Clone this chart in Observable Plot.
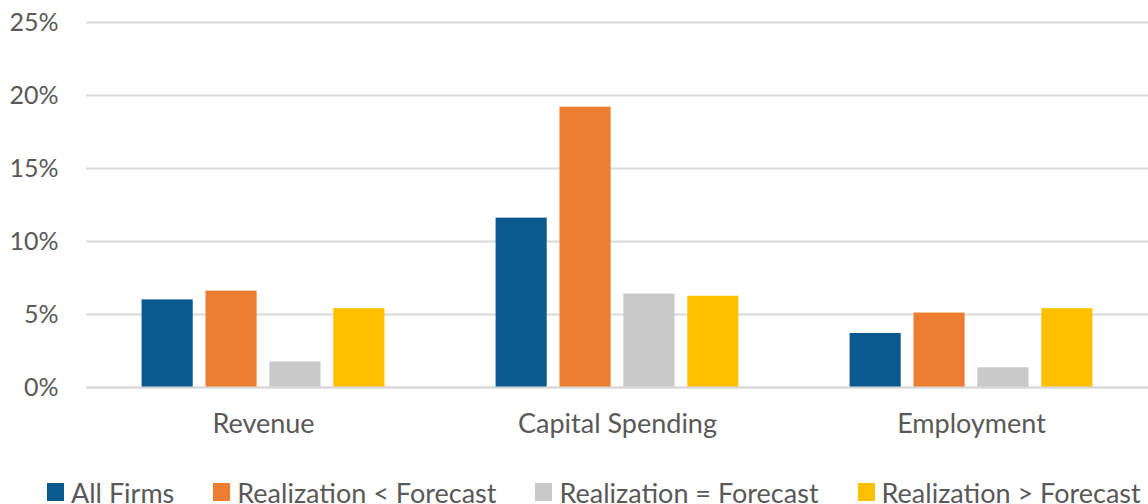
<!DOCTYPE html>
<html>
<head>
<meta charset="utf-8">
<script src="https://cdn.jsdelivr.net/npm/d3@7"></script>
<script src="https://cdn.jsdelivr.net/npm/@observablehq/plot@0.6"></script>
<style>
  html, body { margin: 0; padding: 0; background: #fff; overflow: hidden; }
  #chart svg { display: block; }
  .legend { display: flex; align-items: center; height: 64px; padding-left: 47px;
            font-family: Lato, sans-serif; font-size: 27px; color: #595959; white-space: nowrap; }
  .legend .item { display: flex; align-items: center; margin-right: 39px; }
  .legend .sw { width: 17px; height: 18px; margin-right: 7px; }
</style>
</head>
<body>
<div id="chart"></div>
<div id="legend" class="legend"></div>
<script>
const categories = ["Revenue", "Capital Spending", "Employment"];
const seriesNames = ["All Firms", "Realization < Forecast", "Realization = Forecast", "Realization > Forecast"];
const colors = ["#0A5A8F", "#ED7D31", "#C9C9C9", "#FFC000"];
const allFirms = [0.060, 0.116, 0.037];
const realLess = [0.066, 0.192, 0.051];
const realEqual = [0.0175, 0.064, 0.0135];
const realGreater = [0.054, 0.0625, 0.054];
const yTicks = [0, 0.05, 0.10, 0.15, 0.20, 0.25];

const seriesValues = [allFirms, realLess, realEqual, realGreater];
const data = [];
categories.forEach((c, i) => {
  seriesNames.forEach((s, j) => data.push({category: c, series: s, value: seriesValues[j][i]}));
});

const chart = Plot.plot({
  width: 1148,
  height: 460,
  marginLeft: 86,
  marginRight: 0,
  marginTop: 22,
  marginBottom: 73,
  style: {fontFamily: "Lato, sans-serif", fontSize: "25px", color: "#595959", background: "#fff"},
  fx: {domain: categories, padding: 0, round: false, label: null, axis: null},
  x: {domain: seriesNames, paddingInner: 0.2, paddingOuter: 0.87, round: false, axis: null},
  y: {domain: [0, 0.25], ticks: yTicks, tickFormat: d3.format(".0%"), label: null, tickSize: 0, tickPadding: 28},
  color: {domain: seriesNames, range: colors},
  marks: [
    Plot.gridY(yTicks, {stroke: "#D9D9D9", strokeOpacity: 1, strokeWidth: 2}),
    Plot.barY(data, {fx: "category", x: "series", y: "value", fill: "series"}),
    Plot.ruleY([0], {stroke: "#D9D9D9", strokeWidth: 2}),
    Plot.axisFx({domain: categories, anchor: "bottom", tickSize: 0, tickPadding: 26, label: null, fontSize: 27})
  ]
});
document.getElementById("chart").appendChild(chart);

const legend = document.getElementById("legend");
seriesNames.forEach((s, i) => {
  const item = document.createElement("div");
  item.className = "item";
  const sw = document.createElement("span");
  sw.className = "sw";
  sw.style.background = colors[i];
  const t = document.createElement("span");
  t.textContent = s;
  item.appendChild(sw);
  item.appendChild(t);
  legend.appendChild(item);
});
</script>
</body>
</html>
